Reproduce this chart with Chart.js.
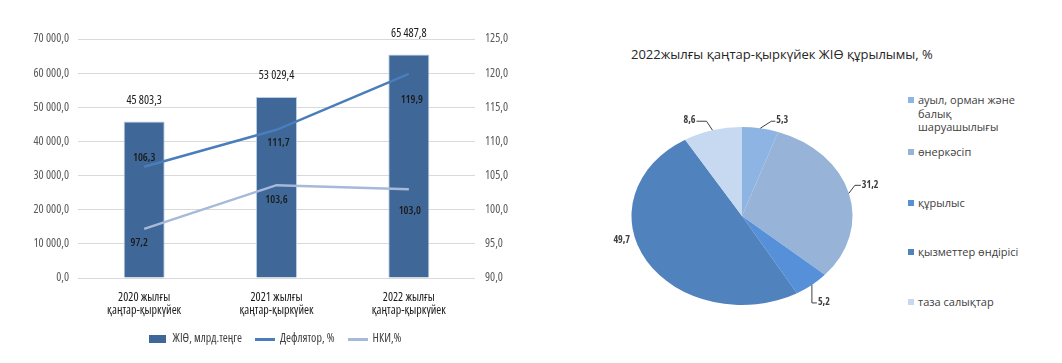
<!DOCTYPE html>
<html><head><meta charset="utf-8">
<script src="https://cdn.jsdelivr.net/npm/chart.js@4.4.0/dist/chart.umd.min.js"></script>
<style>
html,body{margin:0;padding:0;background:#fff;}
body{width:1062px;height:363px;position:relative;overflow:hidden;}
#bar{position:absolute;left:0;top:0;}
#pie{position:absolute;left:590px;top:100px;}
#title{position:absolute;left:631px;top:45px;font:13px 'Open Sans',sans-serif;color:#262626;white-space:nowrap;}
.lg{position:absolute;left:908px;font:11px 'Open Sans',sans-serif;color:#404040;line-height:13.5px;white-space:pre-line;}
.lg i{position:absolute;left:0;top:4px;width:6px;height:6px;}
.lg span{display:block;margin-left:10px;}
</style></head>
<body>
<canvas id="bar" width="550" height="363"></canvas>
<canvas id="pie" width="304" height="232"></canvas>
<div id="title"></div>
<div id="legend"></div>
<script>
// ---- data ----
const categories = [['2020 жылғы','қаңтар-қыркүйек'],['2021 жылғы','қаңтар-қыркүйек'],['2022 жылғы','қаңтар-қыркүйек']];
const gdp = [45803.3, 53029.4, 65487.8];
const deflator = [106.3, 111.7, 119.9];
const cpi = [97.2, 103.6, 103.0];
const seriesNames = ['ЖІӨ, млрд.теңге','Дефлятор, %','НКИ,%'];
const leftAxis = {min:0, max:70000, step:10000};
const rightAxis = {min:90, max:125, step:5};
const pieTitle = '2022жылғы қаңтар-қыркүйек ЖІӨ құрылымы, %';
const pieLabels = ['ауыл, орман және\nбалық\nшаруашылығы','өнеркәсіп','құрылыс','қызметтер өндірісі','таза салықтар'];
const pieValues = [5.3, 31.2, 5.2, 49.7, 8.6];

// ---- styles ----
const FAM = "'Open Sans',sans-serif";
const COND = 'condensed';
const barColor = '#3f6797', deflColor = '#4a7ebb', cpiColor = '#a7b9da';
const pieColors = ['#8eb4e3','#97b4d8','#5690d8','#5082be','#c6d9f0'];
const deflOff = [[0,-9],[2,13],[3,26]];
const cpiOff = [[-5,14],[0,15],[1,22]];
const pieLbl = [
  {line:[[11,-7],[15,-7]], text:[16,-8], align:'left'},
  {line:[[6,-8],[12,-8]], text:[13,-8], align:'left'},
  {line:[[0,18],[5,18]], text:[6,17], align:'left'},
  {line:[], text:[-25,-21], align:'center'},
  {line:[[-6,-9],[-16,-9]], text:[-17,-10], align:'right'}
];

function fmt(v){
  const s = v.toFixed(1).split('.');
  s[0] = s[0].replace(/\B(?=(\d{3})+(?!\d))/g,' ');
  return s.join(',');
}
function icon(w,h,color){
  const c=document.createElement('canvas'); c.width=w; c.height=h;
  const x=c.getContext('2d'); x.fillStyle=color; x.fillRect(0,0,w,h); return c;
}
const icons=[icon(17,8,barColor),icon(20,3,deflColor),icon(20,3,cpiColor)];

const barLabels = {
  id:'barLabels',
  afterDatasetsDraw(chart){
    const ctx=chart.ctx; ctx.save();
    ctx.textAlign='center'; ctx.textBaseline='middle'; ctx.fillStyle='#1a1a1a';
    ctx.font=COND+' 12px '+FAM;
    chart.getDatasetMeta(0).data.forEach((el,i)=>ctx.fillText(fmt(gdp[i]), el.x, el.y-21));
    ctx.font=COND+' 600 11px '+FAM;
    chart.getDatasetMeta(1).data.forEach((el,i)=>ctx.fillText(fmt(deflator[i]), el.x+deflOff[i][0], el.y+deflOff[i][1]));
    chart.getDatasetMeta(2).data.forEach((el,i)=>ctx.fillText(fmt(cpi[i]), el.x+cpiOff[i][0], el.y+cpiOff[i][1]));
    ctx.restore();
  }
};

new Chart(document.getElementById('bar'), {
  data:{
    labels:categories,
    datasets:[
      {type:'bar', label:seriesNames[0], data:gdp, yAxisID:'y', backgroundColor:barColor, borderColor:'#b8cce4', borderWidth:1, barPercentage:0.31, categoryPercentage:1, order:3},
      {type:'line', label:seriesNames[1], data:deflator, yAxisID:'y1', borderColor:deflColor, borderWidth:2.5, pointRadius:0, tension:0, order:2},
      {type:'line', label:seriesNames[2], data:cpi, yAxisID:'y1', borderColor:cpiColor, borderWidth:2.5, pointRadius:0, tension:0, order:1}
    ]
  },
  options:{
    responsive:false, animation:false,
    layout:{padding:{top:39, left:0, right:0, bottom:8}},
    plugins:{
      tooltip:{enabled:false},
      legend:{position:'bottom', labels:{usePointStyle:true, pointStyleWidth:18, boxHeight:8, padding:14, color:'#404040', font:{size:12, family:FAM, weight:'normal '+COND},
        generateLabels(chart){ return chart.data.datasets.map((ds,i)=>({text:ds.label, pointStyle:icons[i], datasetIndex:i, hidden:false, fillStyle:barColor, strokeStyle:barColor, lineWidth:0, fontColor:'#404040'})); }}}
    },
    scales:{
      x:{grid:{display:false}, border:{display:false}, ticks:{padding:5, color:'#1a1a1a', font:{size:12, weight:'500 '+COND, family:FAM, lineHeight:1.1}},
         afterFit(s){ s.height=41; }},
      y:{position:'left', min:leftAxis.min, max:leftAxis.max, ticks:{stepSize:leftAxis.step, padding:9, color:'#595959', font:{size:12, family:FAM, weight:'normal '+COND}, callback:v=>fmt(v)},
         grid:{color:'#d9d9d9', drawTicks:false}, border:{display:false}, afterFit(s){ s.width=78; }},
      y1:{position:'right', min:rightAxis.min, max:rightAxis.max, ticks:{stepSize:rightAxis.step, padding:10, color:'#595959', font:{size:12, family:FAM, weight:'normal '+COND}, callback:v=>fmt(v)},
         grid:{drawOnChartArea:false, drawTicks:false}, border:{display:false}, afterFit(s){ s.width=75; }}
    }
  },
  plugins:[barLabels]
});

// ---- pie ----
const SX = 110.5/89;
const ellipse = {
  id:'ellipse',
  beforeDatasetsDraw(chart){ const a=chart.getDatasetMeta(0).data[0]; const c=chart.ctx; c.save(); c.translate(a.x,a.y); c.scale(SX,1); c.translate(-a.x,-a.y); },
  afterDatasetsDraw(chart){
    chart.ctx.restore();
    const c=chart.ctx; c.save();
    c.font=COND+' bold 10px '+FAM; c.fillStyle='#404040'; c.strokeStyle='#404040'; c.lineWidth=1; c.textBaseline='middle';
    chart.getDatasetMeta(0).data.forEach((a,i)=>{
      const m=(a.startAngle+a.endAngle)/2;
      const ex=a.x+Math.cos(m)*a.outerRadius*SX, ey=a.y+Math.sin(m)*a.outerRadius;
      const st=pieLbl[i];
      if(st.line.length){ c.beginPath(); c.moveTo(ex,ey); st.line.forEach(p=>c.lineTo(ex+p[0],ey+p[1])); c.stroke(); }
      c.textAlign=st.align;
      c.fillText(pieValues[i].toFixed(1).replace('.',','), ex+st.text[0], ey+st.text[1]);
    });
    c.restore();
  }
};
new Chart(document.getElementById('pie'), {
  type:'pie',
  data:{labels:pieLabels, datasets:[{data:pieValues, backgroundColor:pieColors, borderWidth:0}]},
  options:{responsive:false, animation:false, layout:{padding:27}, plugins:{legend:{display:false}, tooltip:{enabled:false}}},
  plugins:[ellipse]
});

document.getElementById('title').textContent = pieTitle;
const tops=[93,145,196,245,295];
const lg=document.getElementById('legend');
pieLabels.forEach((t,i)=>{
  const d=document.createElement('div'); d.className='lg'; d.style.top=tops[i]+'px';
  const sq=document.createElement('i'); sq.style.background=pieColors[i];
  const sp=document.createElement('span'); sp.textContent=t;
  d.appendChild(sq); d.appendChild(sp); lg.appendChild(d);
});
</script>
</body></html>
